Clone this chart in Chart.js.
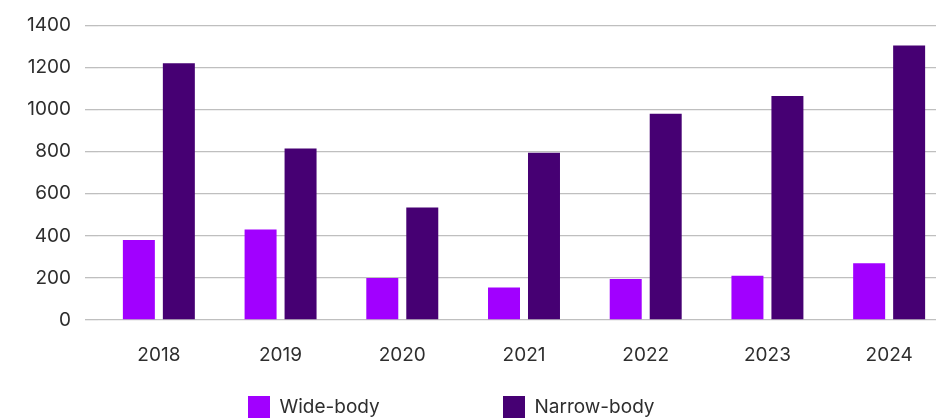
<!DOCTYPE html>
<html>
<head>
<meta charset="utf-8">
<script src="https://cdn.jsdelivr.net/npm/chart.js@4/dist/chart.umd.min.js"></script>
<style>
  html, body { margin: 0; padding: 0; background: #ffffff; overflow: hidden; }
  #wrap { position: relative; width: 950px; height: 419px; }
</style>
</head>
<body>
<div id="wrap"><canvas id="c"></canvas></div>
<script>
const categories = ['2018', '2019', '2020', '2021', '2022', '2023', '2024'];
const wideBody = [380, 430, 200, 155, 195, 210, 270];
const narrowBody = [1220, 815, 535, 795, 980, 1065, 1305];
const yTicks = [0, 200, 400, 600, 800, 1000, 1200, 1400];

const FONT = 'Inter, "Open Sans", sans-serif';
const TEXT = '#2e2e2e';

// Spread the two legend entries apart like the reference (layout only)
const legendSpread = {
  id: 'legendSpread',
  afterLayout(chart) {
    const lg = chart.legend;
    const ctx = chart.ctx;
    const fs = lg.options.labels.font.size;
    ctx.save();
    ctx.font = fs + 'px ' + FONT;
    const w = ctx.measureText(lg.legendItems[0].text).width;
    ctx.restore();
    const firstX = 248, firstY = 396, secondX = 503;
    const P = secondX - firstX - 22 - fs / 2 - w;
    chart.$spreadPad = P;
    lg.left = firstX - P;
    lg.top = firstY - P;
    lg.right = chart.width;
    lg.bottom = chart.height;
    lg.width = lg.right - lg.left;
    lg.height = lg.bottom - lg.top;
  },
  beforeDraw(chart) {
    chart.$origPad = chart.legend.options.labels.padding;
    chart.legend.options.labels.padding = chart.$spreadPad;
  },
  afterDraw(chart) {
    chart.legend.options.labels.padding = chart.$origPad;
  }
};

new Chart(document.getElementById('c'), {
  type: 'bar',
  data: {
    labels: categories,
    datasets: [
      { label: 'Wide-body', data: wideBody, backgroundColor: '#A100FF', borderWidth: 0,
        categoryPercentage: 0.657, barPercentage: 0.8 },
      { label: 'Narrow-body', data: narrowBody, backgroundColor: '#460073', borderWidth: 0,
        categoryPercentage: 0.657, barPercentage: 0.8 }
    ]
  },
  options: {
    responsive: true,
    maintainAspectRatio: false,
    animation: false,
    layout: { padding: { top: 22, left: 0, right: 0, bottom: 10 } },
    scales: {
      x: {
        offset: true,
        afterFit(scale) { scale.height = 47; },
        grid: { display: false, drawTicks: false },
        border: { display: false },
        ticks: { color: TEXT, font: { family: FONT, size: 19 }, padding: 24, maxRotation: 0 }
      },
      y: {
        min: 0,
        max: 1400,
        afterBuildTicks(scale) { scale.ticks = yTicks.map(v => ({ value: v })); },
        afterFit(scale) { scale.width = 98; },
        grid: { color: '#bfbfbf', lineWidth: 1.3, drawTicks: true, tickLength: 13 },
        border: { display: false },
        ticks: { color: TEXT, font: { family: FONT, size: 19 }, padding: 14,
                 callback: (v) => String(v) }
      }
    },
    plugins: {
      legend: {
        position: 'bottom',
        align: 'start',
        maxHeight: 42,
        labels: { boxWidth: 22, boxHeight: 22, padding: 10, color: TEXT,
                  font: { family: FONT, size: 19 } }
      },
      tooltip: { enabled: false }
    }
  },
  plugins: [legendSpread]
});
</script>
</body>
</html>
